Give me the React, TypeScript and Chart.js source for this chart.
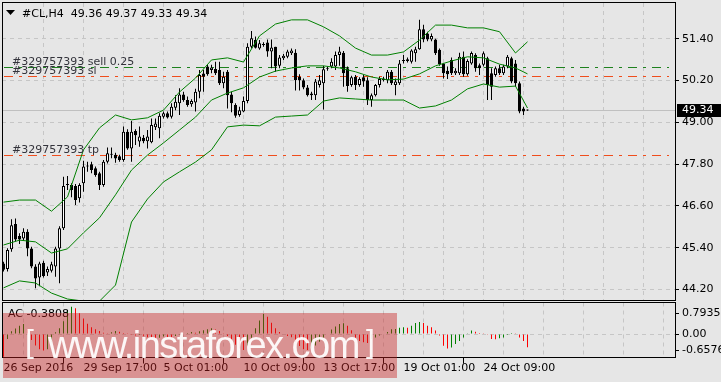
import React, { useEffect, useRef } from 'react';
import { Chart, registerables } from 'chart.js';

Chart.register(...registerables);

const W = 721;
const H = 382;
const BG = '#e6e6e6';
const GRID = '#c6c6c6';
const FONT = '"DejaVu Sans", "Liberation Sans", sans-serif';

const symbol = '#CL,H4';

const opens = [44.95,44.79,45.36,46.08,45.74,45.67,45.86,45.38,44.86,44.55,
44.97,44.69,44.74,44.86,45.38,45.96,47.20,47.20,47.17,46.82,
47.25,47.73,47.80,47.68,47.54,47.20,47.87,48.10,48.07,48.03,
47.92,48.73,48.25,48.75,48.45,48.56,48.46,48.43,48.86,48.83,
49.16,49.26,49.16,49.42,49.55,49.80,49.64,49.52,49.57,49.88,
50.40,50.60,50.50,50.53,50.50,50.12,50.45,49.80,49.50,49.21,
49.31,49.61,51.17,51.36,51.12,51.24,51.29,51.03,51.17,50.62,
50.84,50.88,50.98,51.00,50.31,50.21,50.00,49.83,49.78,50.07,
50.12,50.54,50.60,50.60,50.93,51.00,50.55,50.07,50.31,50.07,
50.29,50.21,49.64,49.78,50.07,50.21,50.21,50.45,50.07,50.12,
50.76,50.81,50.74,50.98,51.10,51.67,51.55,51.38,51.38,51.08,
50.69,50.48,50.79,50.41,50.41,50.88,50.38,50.69,50.93,50.64,
50.65,50.84,50.41,50.36,50.55,50.41,50.60,50.84,50.69,50.12,
49.40,49.36];

const highs = [45.00,45.39,46.22,46.24,45.82,45.96,45.93,45.43,44.93,45.00,
45.03,44.86,45.00,45.43,46.02,47.44,47.46,47.25,47.23,47.25,
47.90,47.87,47.87,47.73,47.58,47.92,48.28,48.28,48.13,48.07,
48.88,48.80,49.04,48.80,48.88,48.64,48.78,49.11,49.11,49.26,
49.31,49.31,49.55,49.78,49.98,49.88,49.74,49.66,49.96,50.50,
50.50,50.65,50.65,50.74,50.74,50.45,50.50,49.88,49.55,49.45,
49.74,51.27,51.62,51.46,51.36,51.30,51.38,51.38,51.17,50.93,
50.96,51.08,51.12,51.10,50.38,50.26,50.07,49.88,50.24,50.36,
50.62,50.60,50.84,51.03,51.17,51.05,50.60,50.34,50.36,50.29,
50.36,50.29,49.83,50.10,50.31,50.31,50.50,50.50,50.26,50.79,
50.93,50.86,51.10,51.17,51.94,51.80,51.60,51.55,51.40,51.12,
50.69,50.60,50.86,50.55,51.00,51.03,50.81,51.03,50.98,50.69,
51.03,50.88,50.55,50.60,50.65,50.65,50.93,50.88,50.79,50.17,
49.45,49.37];

const lows = [44.72,44.72,45.29,45.58,45.51,45.60,45.16,44.81,44.24,44.30,
44.55,44.59,44.69,44.57,44.38,45.91,47.06,46.85,46.63,46.70,
47.01,47.58,47.54,47.44,47.06,47.15,47.82,47.97,47.84,47.87,
47.87,48.21,47.87,48.35,48.30,48.40,48.25,48.40,48.78,48.54,
49.11,49.11,49.11,49.35,49.21,49.59,49.45,49.45,49.31,49.69,
49.88,50.34,50.41,50.36,50.07,49.98,49.40,49.29,49.13,49.16,
49.29,49.55,51.12,51.12,51.08,51.17,50.88,50.55,50.45,50.55,
50.79,50.84,50.93,49.91,49.91,49.95,49.74,49.64,49.64,50.00,
49.37,50.48,50.55,50.50,50.62,50.02,49.88,50.02,49.93,50.02,
50.02,49.50,49.45,49.74,50.00,50.17,50.12,50.07,49.78,50.07,
50.69,50.72,50.69,50.74,51.08,51.30,51.33,51.33,50.93,50.62,
50.26,50.24,50.36,50.36,50.36,50.31,50.34,50.65,50.45,50.36,
50.60,49.64,49.64,50.31,50.36,50.36,50.55,50.12,50.02,49.26,
49.21,49.33];

const closes = [44.77,45.34,46.05,45.64,45.64,45.86,45.38,44.86,44.52,44.95,
44.59,44.79,44.93,45.38,45.96,47.17,47.22,47.06,46.77,47.20,
47.73,47.74,47.63,47.49,47.20,47.87,48.11,48.07,47.96,47.92,
48.73,48.25,48.73,48.63,48.59,48.46,48.59,48.92,48.97,49.19,
49.26,49.14,49.45,49.59,49.80,49.64,49.50,49.61,49.88,50.36,
50.31,50.38,50.57,50.41,50.12,50.31,49.78,49.55,49.19,49.35,
49.61,51.17,51.41,51.14,51.27,51.22,51.03,51.15,50.60,50.86,
50.91,51.03,51.06,50.21,50.21,50.00,49.78,49.78,50.17,50.21,
50.52,50.55,50.74,50.93,51.03,50.41,50.04,50.29,50.07,50.24,
50.17,49.64,49.78,50.07,50.24,50.26,50.45,50.12,50.17,50.69,
50.79,50.76,51.06,51.10,51.67,51.38,51.38,51.48,50.98,50.67,
50.41,50.38,50.41,50.48,50.88,50.38,50.76,50.99,50.55,50.55,
50.98,50.07,50.02,50.55,50.41,50.60,50.88,50.17,50.12,49.31,
49.31,49.34];

const bbIdx = [0,4,8,12,16,20,24,28,32,36,40,44,48,52,56,60,64,68,72,76,80,84,88,92,96,100,104,108,112,116,120,124,128,131];
const bbUpper = [46.71,46.77,46.77,46.45,46.86,48.21,48.84,49.21,49.07,49.13,49.35,49.87,50.27,50.79,50.85,50.73,51.48,51.82,51.94,51.94,51.74,51.48,51.13,50.93,50.93,51.02,51.36,51.79,51.79,51.71,51.71,51.60,50.99,51.31];
const bbMiddle = [45.48,45.62,45.57,45.25,45.37,45.83,46.26,46.92,47.63,48.06,48.41,48.78,49.15,49.64,49.84,49.99,50.30,50.47,50.56,50.62,50.62,50.56,50.45,50.30,50.22,50.24,50.39,50.62,50.76,50.88,50.85,50.67,50.56,50.39];
const bbLower = [44.25,44.45,44.39,44.10,43.93,43.87,43.87,44.33,46.14,46.80,47.29,47.58,47.86,48.21,48.87,48.92,48.90,49.15,49.18,49.21,49.61,49.70,49.67,49.64,49.64,49.64,49.41,49.47,49.64,49.96,50.10,50.01,50.04,49.41];

const acValues = [-0.6576,-0.14,0.08,0.16,0.24,0.29,0.14,-0.17,-0.33,-0.44,
-0.48,-0.44,-0.24,0.05,0.17,0.37,0.70,0.7935,0.75,0.60,
0.45,0.30,0.20,0.14,0.09,0.04,0.02,0.05,0.09,0.07,
0.03,0.01,-0.02,-0.04,-0.03,-0.05,-0.09,-0.11,-0.13,-0.11,
-0.07,-0.09,-0.10,-0.06,-0.02,0.00,0.03,0.06,0.04,0.08,
0.11,0.14,0.17,0.13,0.09,0.02,-0.06,-0.17,-0.31,-0.42,
-0.46,-0.33,-0.11,0.17,0.39,0.58,0.50,0.33,0.17,0.06,
0.00,-0.06,-0.09,-0.22,-0.35,-0.44,-0.46,-0.42,-0.33,-0.22,
-0.11,0.00,0.13,0.22,0.29,0.31,0.24,0.11,-0.11,-0.20,
-0.24,-0.26,-0.14,-0.10,-0.04,-0.01,0.06,0.14,0.15,0.18,
0.20,0.18,0.24,0.32,0.35,0.32,0.24,0.20,0.10,-0.04,
-0.34,-0.42,-0.39,-0.29,-0.20,-0.10,0.02,0.10,0.07,0.03,
0.01,-0.02,-0.14,-0.15,-0.12,-0.10,-0.03,0.03,0.01,-0.10,
-0.20,-0.3808];

const priceTicks = [44.2, 45.4, 46.6, 47.8, 49.0, 50.2, 51.4];
const priceMin = 43.902;
const priceMax = 52.424;
const acMin = -0.68;
const acMax = 0.915;
const barMin = -0.375;
const barMax = 167.875;
const axisBars = [0,10,20,30,40,50,60,70,80,90,100,110,120,130,140,150,160];
const labelBars = [0,20,40,60,80,100,120];
const timeLabels = ['26 Sep 2016','29 Sep 17:00','5 Oct 01:00','10 Oct 09:00','13 Oct 17:00','19 Oct 01:00','24 Oct 09:00'];

const orderNames = ['#329757393 sell 0.25', '#329757393 sl', '#329757393 tp'];
const orderPrices = [50.58, 50.32, 48.06];
const orderColors = ['#1e821e', '#f04d1c', '#f04d1c'];

const LAST = closes.length - 1;
const TRANSPARENT = 'rgba(0,0,0,0)';

const fixW = (w: number) => (s: any) => {
  s.width = w; s.paddingTop = 0; s.paddingBottom = 0; s.paddingLeft = 0; s.paddingRight = 0;
};
const fixH = (h: number) => (s: any) => {
  s.height = h; s.paddingTop = 0; s.paddingBottom = 0; s.paddingLeft = 0; s.paddingRight = 0;
};

const lineDs = (vals: number[]) => ({
  type: 'line' as const,
  data: bbIdx.map((x, k) => ({ x, y: vals[k] })),
  borderColor: '#008000',
  borderWidth: 1,
  pointRadius: 0,
  tension: 0,
  fill: false,
  order: 0,
});

const mainPlugin = {
  id: 'mainDecor',
  beforeDatasetsDraw(chart: any) {
    const { ctx, chartArea: a, scales } = chart;
    const y = scales.y;
    ctx.save();
    ctx.beginPath();
    ctx.rect(a.left, a.top, a.right - a.left, a.bottom - a.top);
    ctx.clip();
    ctx.lineWidth = 1;
    const by = Math.round(y.getPixelForValue(closes[LAST])) + 0.5;
    ctx.strokeStyle = '#c0c0c0';
    ctx.setLineDash([]);
    ctx.beginPath(); ctx.moveTo(a.left, by); ctx.lineTo(a.right, by); ctx.stroke();
    orderPrices.forEach((p, k) => {
      const yy = Math.round(y.getPixelForValue(p)) + 0.5;
      ctx.strokeStyle = orderColors[k];
      ctx.setLineDash([9, 6, 3, 6]);
      ctx.beginPath(); ctx.moveTo(a.left + 2, yy); ctx.lineTo(a.right - 6, yy); ctx.stroke();
    });
    ctx.restore();
  },
  afterDraw(chart: any) {
    const { ctx, chartArea: a, scales } = chart;
    const y = scales.y;
    ctx.save();
    ctx.font = `11px ${FONT}`;
    ctx.textAlign = 'left';
    // order labels
    ctx.textBaseline = 'alphabetic';
    ctx.fillStyle = '#34343c';
    orderPrices.forEach((p, k) => {
      const yy = Math.round(y.getPixelForValue(p));
      ctx.fillText(orderNames[k], 12, yy - 2.5);
    });
    // frame
    ctx.strokeStyle = '#000';
    ctx.lineWidth = 1;
    ctx.setLineDash([]);
    ctx.strokeRect(a.left + 0.5, a.top - 0.5, a.right - a.left, a.bottom - a.top + 1);
    // header
    ctx.fillStyle = '#000';
    ctx.beginPath(); ctx.moveTo(6, 10); ctx.lineTo(15, 10); ctx.lineTo(10.5, 15); ctx.closePath(); ctx.fill();
    const header = `${symbol}  ${opens[LAST].toFixed(2)} ${highs[LAST].toFixed(2)} ${lows[LAST].toFixed(2)} ${closes[LAST].toFixed(2)}`;
    ctx.fillText(header, 22, 16.5);
    // price box
    const py = Math.round(y.getPixelForValue(closes[LAST]));
    ctx.fillStyle = '#000';
    ctx.fillRect(a.right + 2, py - 6, chart.width - a.right - 2, 13);
    ctx.fillStyle = '#fff';
    ctx.textBaseline = 'middle';
    ctx.fillText(closes[LAST].toFixed(2), a.right + 7, py + 0.5);
    ctx.restore();
  },
};

const acPlugin = {
  id: 'acDecor',
  afterDraw(chart: any) {
    const { ctx, chartArea: a, scales } = chart;
    const y = scales.y;
    ctx.save();
    ctx.font = `11px ${FONT}`;
    ctx.fillStyle = '#000';
    ctx.textAlign = 'left';
    ctx.textBaseline = 'alphabetic';
    ctx.fillText(`AC ${acValues[LAST].toFixed(4)}`, 8, a.top + 14.5);
    const hi = Math.max(...acValues);
    const lo = Math.min(...acValues);
    const items: [string, number][] = [
      [hi.toFixed(4), a.top + 10],
      ['0.00', y.getPixelForValue(0)],
      [lo.toFixed(4), a.bottom - 8],
    ];
    ctx.textBaseline = 'middle';
    ctx.strokeStyle = '#000';
    ctx.lineWidth = 1;
    for (const [t, p] of items) {
      const yy = Math.round(p) + 0.5;
      ctx.beginPath(); ctx.moveTo(a.right, yy); ctx.lineTo(a.right + 4, yy); ctx.stroke();
      ctx.fillText(t, a.right + 7, yy);
    }
    ctx.strokeRect(a.left + 0.5, a.top, a.right - a.left, a.bottom - a.top);
    ctx.restore();
  },
};

function mainConfig(): any {
  const idx = opens.map((_, i) => i);
  return {
    type: 'bar',
    data: {
      datasets: [
        lineDs(bbUpper),
        lineDs(bbMiddle),
        lineDs(bbLower),
        {
          type: 'bar',
          data: idx.map((i) => ({ x: i, y: [Math.min(opens[i], closes[i]), Math.max(opens[i], closes[i])] })),
          backgroundColor: idx.map((i) => (closes[i] >= opens[i] ? '#ffffff' : '#000000')),
          borderColor: '#000000',
          borderWidth: 1,
          borderSkipped: false,
          grouped: false,
          barPercentage: 1,
          categoryPercentage: 1,
          maxBarThickness: 3,
          minBarLength: 1,
          inflateAmount: 0,
          order: 1,
        },
        {
          type: 'bar',
          data: idx.map((i) => ({ x: i, y: [lows[i], highs[i]] })),
          backgroundColor: '#000000',
          borderWidth: 0,
          grouped: false,
          barPercentage: 1,
          categoryPercentage: 1,
          maxBarThickness: 1,
          inflateAmount: 0,
          order: 2,
        },
      ],
    },
    options: {
      animation: false,
      responsive: false,
      devicePixelRatio: 1,
      events: [],
      layout: { padding: { left: 2, right: 0, top: 3, bottom: 1 } },
      plugins: { legend: { display: false }, tooltip: { enabled: false } },
      scales: {
        x: {
          type: 'linear',
          min: barMin,
          max: barMax,
          offset: false,
          afterBuildTicks: (s: any) => { s.ticks = axisBars.filter((v) => v > 0).map((v) => ({ value: v })); },
          afterFit: fixH(0),
          ticks: { display: false },
          grid: { color: GRID, drawTicks: false, offset: false },
          border: { display: false, dash: [4, 4] },
        },
        y: {
          type: 'linear',
          position: 'right',
          min: priceMin,
          max: priceMax,
          afterBuildTicks: (s: any) => { s.ticks = priceTicks.map((v) => ({ value: v })); },
          afterFit: fixW(46),
          ticks: {
            callback: (v: any) => Number(v).toFixed(2),
            color: '#000',
            font: { family: FONT, size: 11 },
            padding: 3,
            crossAlign: 'near',
          },
          grid: { color: GRID, tickColor: '#000', tickLength: 4, drawTicks: true },
          border: { display: false, dash: [4, 4] },
        },
      },
    },
    plugins: [mainPlugin],
  };
}

function acConfig(): any {
  const idx = acValues.map((_, i) => i);
  return {
    type: 'bar',
    data: {
      datasets: [
        {
          type: 'bar',
          data: idx.map((i) => ({ x: i, y: acValues[i] })),
          backgroundColor: idx.map((i) => (i > 0 && acValues[i] > acValues[i - 1] ? '#008000' : '#ff0000')),
          borderWidth: 0,
          grouped: false,
          barPercentage: 1,
          categoryPercentage: 1,
          maxBarThickness: 1,
          inflateAmount: 0,
        },
      ],
    },
    options: {
      animation: false,
      responsive: false,
      devicePixelRatio: 1,
      events: [],
      layout: { padding: { left: 2, right: 0, top: 2.5, bottom: 0 } },
      plugins: { legend: { display: false }, tooltip: { enabled: false } },
      scales: {
        x: {
          type: 'linear',
          min: barMin,
          max: barMax,
          offset: false,
          afterBuildTicks: (s: any) => { s.ticks = axisBars.map((v) => ({ value: v })); },
          afterFit: fixH(24.5),
          ticks: {
            display: true,
            autoSkip: false,
            maxRotation: 0,
            minRotation: 0,
            align: 'start',
            padding: -2,
            color: '#000',
            font: { family: FONT, size: 11 },
            callback: (v: any) => {
              const k = labelBars.indexOf(Number(v));
              return k >= 0 ? timeLabels[k] : '';
            },
          },
          grid: {
            color: (c: any) => (c.tick && c.tick.value === 0 ? TRANSPARENT : GRID),
            drawTicks: true,
            tickLength: 6,
            tickWidth: 1,
            tickColor: (c: any) => (c.tick && c.tick.value > 0 && labelBars.includes(c.tick.value) ? '#000' : TRANSPARENT),
          },
          border: { display: false, dash: [4, 4] },
        },
        y: {
          type: 'linear',
          position: 'right',
          min: acMin,
          max: acMax,
          afterBuildTicks: (s: any) => { s.ticks = [{ value: 0 }]; },
          afterFit: fixW(46),
          ticks: { display: false },
          grid: { color: GRID, drawTicks: false },
          border: { display: false, dash: [4, 4] },
        },
      },
    },
    plugins: [acPlugin],
  };
}

export default function App() {
  const mainRef = useRef<HTMLCanvasElement>(null);
  const acRef = useRef<HTMLCanvasElement>(null);

  useEffect(() => {
    document.body.style.margin = '0';
    Chart.defaults.font.family = FONT;
    const c1 = new Chart(mainRef.current as HTMLCanvasElement, mainConfig());
    const c2 = new Chart(acRef.current as HTMLCanvasElement, acConfig());
    return () => {
      c1.destroy();
      c2.destroy();
    };
  }, []);

  return (
    <div style={{ position: 'fixed', left: 0, top: 0, width: W, height: H, background: BG, overflow: 'hidden' }}>
      <canvas ref={mainRef} width={721} height={301} style={{ position: 'absolute', left: 0, top: 0 }} />
      <canvas ref={acRef} width={721} height={82} style={{ position: 'absolute', left: 0, top: 300 }} />
      <div
        style={{
          position: 'absolute', left: 3, top: 313, width: 394, height: 65,
          background: 'rgba(200,30,30,0.42)', pointerEvents: 'none',
          fontFamily: '"Liberation Sans", Arial, sans-serif', color: 'rgba(255,255,255,0.92)',
        }}
      >
        <span style={{ position: 'absolute', left: 22, top: 12, fontSize: 32, lineHeight: '32px' }}>[</span>
        <span style={{ position: 'absolute', left: 45, top: 13, fontSize: 38, lineHeight: '38px', letterSpacing: '-1.5px', whiteSpace: 'nowrap' }}>www.instaforex.com</span>
        <span style={{ position: 'absolute', left: 363, top: 12, fontSize: 32, lineHeight: '32px' }}>]</span>
      </div>
    </div>
  );
}
